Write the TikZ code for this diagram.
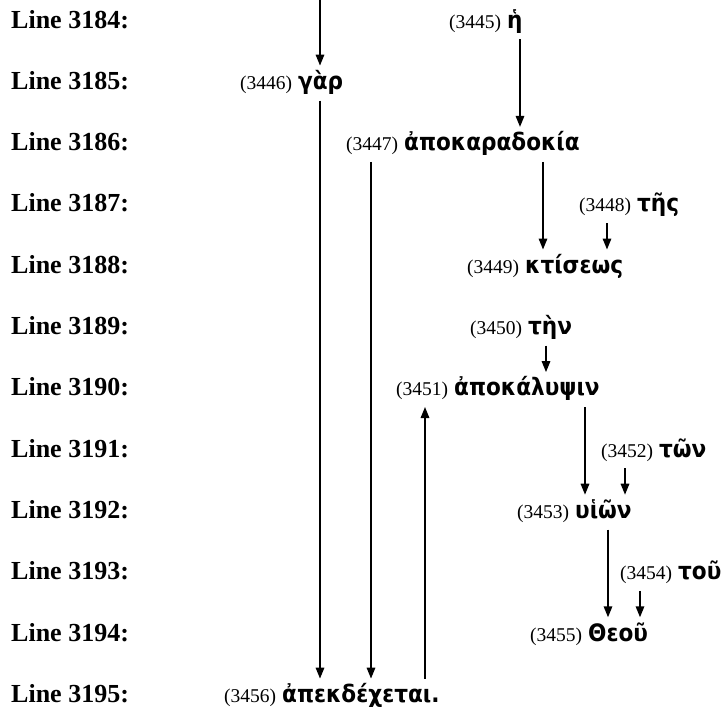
\documentclass[tikz,border=0pt]{standalone}
\usepackage{fontspec}
\setmainfont{Liberation Serif}
\newfontfamily\greekfont[FakeStretch=0.9]{DejaVu Sans}
\usepackage{tikz}
\usetikzlibrary{arrows.meta,positioning}
\newcommand{\tok}[2]{{\fontsize{19.5}{20}\selectfont(#1)}\hspace{6pt}{\greekfont\bfseries\fontsize{24}{25}\selectfont #2}}
\tikzset{
	linelab/.style={anchor=base west, inner sep=0pt, font=\fontsize{26}{28}\selectfont\bfseries},
	word/.style={anchor=base west, inner sep=2pt, text height=21.5pt, text depth=9pt, font=\fontsize{19.5}{20}\selectfont},
	dep/.style={-{Triangle[length=11pt,width=8.5pt]}, line width=1.6pt}
}

\begin{document}
\begin{tikzpicture}[x=1pt, y=-1pt]
	\useasboundingbox (0,0) rectangle (728,712);
	\node[linelab] (l3184)	at	(11, 28.0)	{Line 3184:};
	\node[linelab] (l3185)	at	(11, 89.3)	{Line 3185:};
	\node[linelab] (l3186)	at	(11, 150.6)	{Line 3186:};
	\node[linelab] (l3187)	at	(11, 211.9)	{Line 3187:};
	\node[linelab] (l3188)	at	(11, 273.2)	{Line 3188:};
	\node[linelab] (l3189)	at	(11, 334.5)	{Line 3189:};
	\node[linelab] (l3190)	at	(11, 395.8)	{Line 3190:};
	\node[linelab] (l3191)	at	(11, 457.1)	{Line 3191:};
	\node[linelab] (l3192)	at	(11, 518.4)	{Line 3192:};
	\node[linelab] (l3193)	at	(11, 579.7)	{Line 3193:};
	\node[linelab] (l3194)	at	(11, 641.0)	{Line 3194:};
	\node[linelab] (l3195)	at	(11, 702.3)	{Line 3195:};
		\node[word] (he)		at	(447, 28.0)	{\tok{3445}{ἡ}};
		\node[word] (gar)		at	(238, 89.3)	{\tok{3446}{γὰρ}};
		\node[word] (apokar)	at	(344, 150.6)	{\tok{3447}{ἀποκαραδοκία}};
		\node[word] (tes)		at	(577, 211.9)	{\tok{3448}{τῆς}};
		\node[word] (ktiseos)	at	(465, 273.2)	{\tok{3449}{κτίσεως}};
		\node[word] (ten)		at	(468, 334.5)	{\tok{3450}{τὴν}};
		\node[word] (apokal)	at	(394, 395.8)	{\tok{3451}{ἀποκάλυψιν}};
		\node[word] (ton)		at	(599, 457.1)	{\tok{3452}{τῶν}};
		\node[word] (huion)		at	(515, 518.4)	{\tok{3453}{υἱῶν}};
		\node[word] (tou)		at	(618, 579.7)	{\tok{3454}{τοῦ}};
		\node[word] (theou)		at	(528, 641.0)	{\tok{3455}{Θεοῦ}};
		\node[word] (apekd)		at	(222, 702.3)	{\tok{3456}{ἀπεκδέχεται.}};
		\coordinate (above) at (320, 0);
		\draw[dep] (above) -- (gar.north -| above);
		\draw[dep] (he.south -| 520,0) -- (apokar.north -| 520,0);
		\draw[dep] (gar.south -| 320,0) -- (apekd.north -| 320,0);
		\draw[dep] (apokar.south -| 371,0) -- (apekd.north -| 371,0);
		\draw[dep] (apokar.south -| 543,0) -- (ktiseos.north -| 543,0);
		\draw[dep] (tes.south -| 607,0) -- (ktiseos.north -| 607,0);
		\draw[dep] (ten.south -| 546,0) -- (apokal.north -| 546,0);
		\draw[dep] (apekd.north -| 425,0) -- (apokal.south -| 425,0);
		\draw[dep] (apokal.south -| 585,0) -- (huion.north -| 585,0);
		\draw[dep] (ton.south -| 625,0) -- (huion.north -| 625,0);
		\draw[dep] (huion.south -| 608,0) -- (theou.north -| 608,0);
		\draw[dep] (tou.south -| 640,0) -- (theou.north -| 640,0);
	\end{tikzpicture}
\end{document}
